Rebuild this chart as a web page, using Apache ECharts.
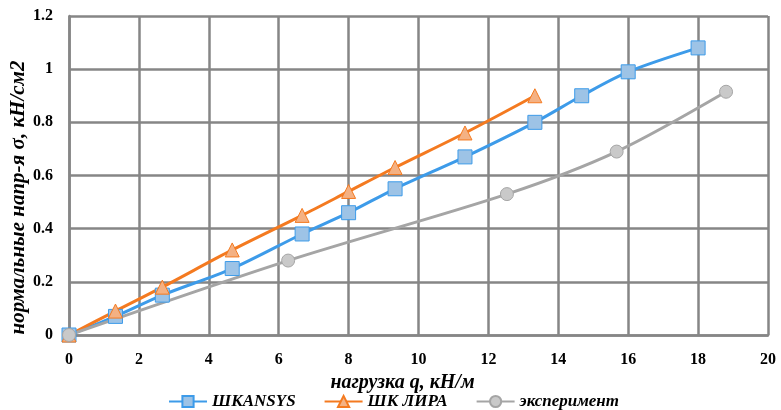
<!DOCTYPE html>
<html>
<head>
<meta charset="utf-8">
<script src="https://cdn.jsdelivr.net/npm/echarts@6/dist/echarts.min.js"></script>
<style>
  html, body { margin: 0; padding: 0; background: #fff; }
  #chart { width: 781px; height: 410px; }
</style>
</head>
<body>
<div id="chart"></div>
<script>
// data
const ansysX = [0, 1.33, 2.67, 4.67, 6.67, 8, 9.33, 11.33, 13.33, 14.67, 16, 18];
const ansysY = [0, 0.07, 0.15, 0.25, 0.38, 0.46, 0.55, 0.67, 0.80, 0.90, 0.99, 1.08];
const liraX = [0, 1.33, 2.67, 4.67, 6.67, 8, 9.33, 11.33, 13.33];
const liraY = [0, 0.09, 0.18, 0.32, 0.45, 0.54, 0.63, 0.76, 0.90];
const expX = [0, 6.27, 12.53, 15.67, 18.8];
const expY = [0, 0.28, 0.53, 0.69, 0.915];
const seriesNames = ['ШКANSYS', 'ШК ЛИРА', 'эксперимент'];

const serif = 'Liberation Serif';
const pairs = (xs, ys) => xs.map((x, i) => [x, ys[i]]);

const chart = echarts.init(document.getElementById('chart'));

function lineSeries(name, data, color, fill, symbol, size) {
    return {
        name: name,
        type: 'line',
        data: data,
        smooth: 0.3,
        symbol: symbol,
        symbolSize: size,
        lineStyle: { color: color, width: 3 },
        itemStyle: { color: fill, borderColor: color, borderWidth: 1 },
        emphasis: { disabled: true }
    };
}

chart.setOption({
    animation: false,
    // fixed plot box, don't let labels push it around
    grid: { left: 69, right: 13, top: 16, bottom: 75, outerBoundsMode: 'none' },
    legend: {
        left: 163,
        top: 388,
        itemWidth: 38,
        itemHeight: 14,
        itemGap: 28,
        textStyle: { fontFamily: serif, fontStyle: 'italic', fontWeight: 'bold', fontSize: 17, color: '#000' },
        data: seriesNames
    },
    xAxis: {
        type: 'value',
        min: 0, max: 20, interval: 2,
        name: 'нагрузка q, кН/м',
        nameLocation: 'middle',
        nameGap: 37,
        nameTextStyle: { fontFamily: serif, fontStyle: 'italic', fontWeight: 'bold', fontSize: 20, color: '#000', padding: [0, 32, 0, 0] },
        axisLine: { lineStyle: { color: '#868686', width: 2.5 } },
        axisTick: { show: false },
        axisLabel: { margin: 17, fontFamily: serif, fontWeight: 'bold', fontSize: 16, color: '#000' },
        splitLine: { show: true, lineStyle: { color: '#868686', width: 2.5 } }
    },
    yAxis: {
        type: 'value',
        min: 0, max: 1.2, interval: 0.2,
        name: 'нормальные напр-я σ, кН/см2',
        nameLocation: 'middle',
        nameRotate: 90,
        nameGap: 40,
        nameMoveOverlap: false,
        nameTextStyle: { fontFamily: serif, fontStyle: 'italic', fontWeight: 'bold', fontSize: 21, color: '#000', padding: [0, 44, 0, 0] },
        axisLine: { show: true, lineStyle: { color: '#868686', width: 2.5 } },
        axisTick: { show: false },
        axisLabel: { margin: 16, fontFamily: serif, fontWeight: 'bold', fontSize: 16, color: '#000' },
        splitLine: { show: true, lineStyle: { color: '#868686', width: 2.5 } }
    },
    series: [
        lineSeries(seriesNames[0], pairs(ansysX, ansysY), '#3d9be9', '#9dc3e6', 'rect', 14),
        lineSeries(seriesNames[1], pairs(liraX, liraY), '#f47a20', '#f4b183', 'triangle', 14),
        lineSeries(seriesNames[2], pairs(expX, expY), '#a5a5a5', '#c9c9c9', 'circle', 13)
    ]
});

window.addEventListener('resize', () => chart.resize());
</script>
</body>
</html>
